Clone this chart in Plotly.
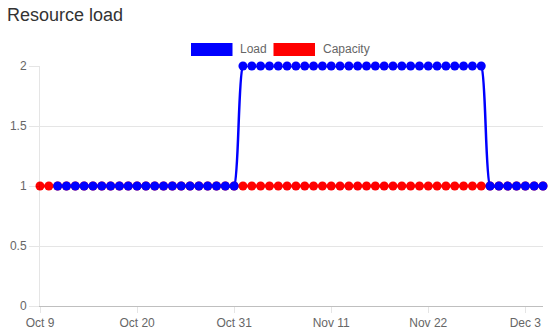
import pandas as pd
import plotly.graph_objects as go

# ---- data ----
capacity_dates = pd.date_range("2019-10-09", "2019-12-05", freq="D")
capacity_values = [
    1, 1, 1, 1, 1, 1, 1, 1, 1, 1, 1, 1, 1, 1, 1, 1, 1, 1, 1, 1,
    1, 1, 1, 1, 1, 1, 1, 1, 1, 1, 1, 1, 1, 1, 1, 1, 1, 1, 1, 1,
    1, 1, 1, 1, 1, 1, 1, 1, 1, 1, 1, 1, 1, 1, 1, 1, 1, 1,
]
load_dates = pd.date_range("2019-10-11", "2019-12-05", freq="D")
load_values = [
    1, 1, 1, 1, 1, 1, 1, 1, 1, 1, 1, 1, 1, 1, 1, 1, 1, 1, 1, 1, 1,
    2, 2, 2, 2, 2, 2, 2, 2, 2, 2, 2, 2, 2, 2, 2, 2, 2, 2, 2, 2, 2,
    2, 2, 2, 2, 2, 2, 2,
    1, 1, 1, 1, 1, 1, 1,
]
x_tick_vals = ["2019-10-09", "2019-10-20", "2019-10-31", "2019-11-11", "2019-11-22", "2019-12-03"]
x_tick_text = ["Oct 9", "Oct 20", "Oct 31", "Nov 11", "Nov 22", "Dec 3"]
y_tick_vals = [0, 0.5, 1, 1.5, 2]
y_tick_text = ["0", "0.5", "1", "1.5", "2"]

W, H = 559, 331
L, R, T, B = 40, 16, 66, 25
pw, ph = W - L - R, H - T - B

def px(x):
    return (x - L) / pw

def py(y):
    return (H - B - y) / ph

FONT = "Liberation Sans, Arial, sans-serif"
GRID = "rgba(0,0,0,0.1)"

fig = go.Figure()
fig.add_trace(go.Scatter(
    x=capacity_dates, y=capacity_values, name="Capacity", mode="lines+markers",
    line=dict(color="#ff0000", width=2.5, shape="spline", smoothing=0.5),
    marker=dict(color="#ff0000", size=9), cliponaxis=False, showlegend=False,
))
fig.add_trace(go.Scatter(
    x=load_dates, y=load_values, name="Load", mode="lines+markers",
    line=dict(color="#0000ff", width=2.5, shape="spline", smoothing=0.5),
    marker=dict(color="#0000ff", size=9), cliponaxis=False, showlegend=False,
))

# legend drawn manually (Chart.js style wide boxes)
legend_items = [("Load", "#0000ff", 191, 232.5, 238), ("Capacity", "#ff0000", 273.5, 315, 320.5)]
for label, col, bx0, bx1, tx in legend_items:
    fig.add_shape(type="rect", xref="paper", yref="paper",
                  x0=px(bx0), x1=px(bx1), y0=py(56), y1=py(43),
                  fillcolor=col, line=dict(width=0))
    fig.add_annotation(text=label, xref="paper", yref="paper", x=px(tx), y=py(49.5),
                       xanchor="left", yanchor="middle", showarrow=False,
                       font=dict(family=FONT, size=12, color="#666"))

fig.update_layout(
    width=W, height=H,
    margin=dict(l=L, r=R, t=T, b=B, pad=0),
    paper_bgcolor="white", plot_bgcolor="white",
    font=dict(family=FONT, size=12, color="#666"),
    title=dict(text="Resource load", x=7 / W, xref="container", xanchor="left",
               y=1 - 15 / H, yref="container", yanchor="middle",
               font=dict(family=FONT, size=18, color="#333")),
    showlegend=False,
)
fig.update_xaxes(
    range=["2019-10-09", "2019-12-05"], tickvals=x_tick_vals, ticktext=x_tick_text,
    showgrid=False, ticks="outside", ticklen=6, tickcolor=GRID,
    showline=True, linecolor="rgba(0,0,0,0.25)", linewidth=1,
    tickfont=dict(family=FONT, size=12, color="#666"), zeroline=False,
    automargin=False,
)
fig.update_yaxes(
    range=[0, 2], tickvals=y_tick_vals, ticktext=y_tick_text,
    showgrid=True, gridcolor=GRID, ticks="outside", ticklen=10, tickcolor=GRID,
    showline=True, linecolor=GRID, linewidth=1, zeroline=False,
    tickfont=dict(family=FONT, size=12, color="#666"), automargin=False,
)

fig.write_html("out.html")
